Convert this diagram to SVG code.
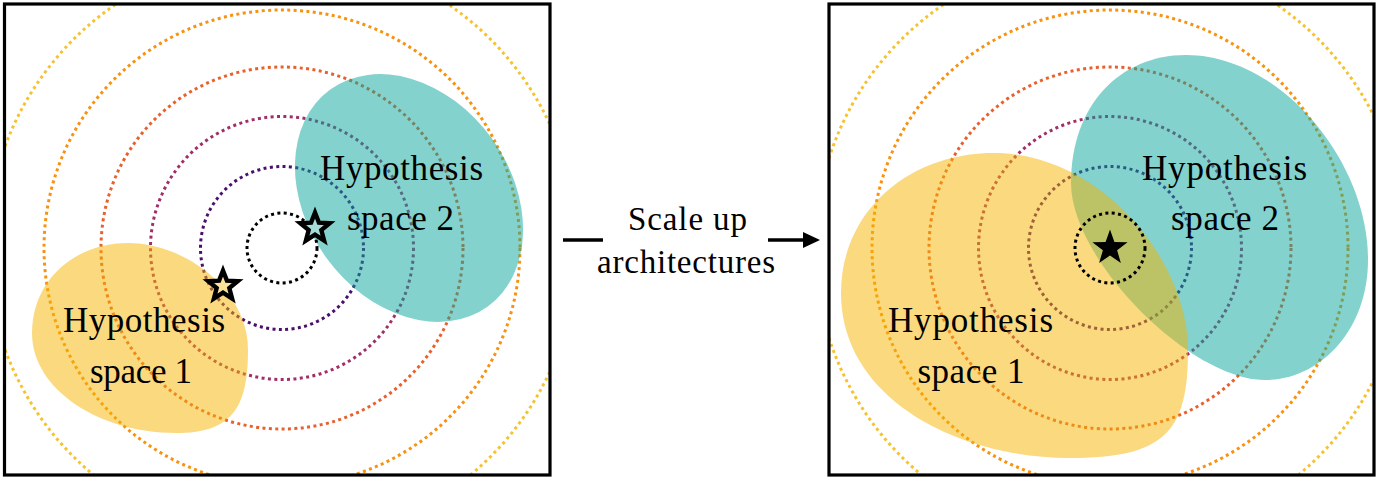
<svg xmlns="http://www.w3.org/2000/svg" width="1377" height="481" viewBox="0 0 1377 481">
<style>
.c{fill:none;stroke-width:3;stroke-dasharray:3 3.4}
.k{stroke:#000}
.p{stroke:#4a0e6b}
.m{stroke:#a02f68}
.r{stroke:#e8602c}
.o{stroke:#f8920f}
.y{stroke:#f5c330}
.teal{fill:#08a69c;fill-opacity:0.5}
.gold{fill:#f5b300;fill-opacity:0.5}
.box{fill:none;stroke:#000;stroke-width:3.2}
text{font-family:"Liberation Serif","Times New Roman",serif;fill:#000;text-anchor:middle}
.lbl{font-size:35px}
.mid{font-size:33px}
.star{stroke:#000;stroke-width:4.4;stroke-linejoin:miter;stroke-miterlimit:5}
.arrow{stroke:#000;stroke-width:3.6;fill:none}
</style>
<defs>
<clipPath id="clipL"><rect x="4.5" y="4" width="545.5" height="471"/></clipPath>
<clipPath id="clipR"><rect x="829" y="4" width="545" height="471"/></clipPath>
<path id="starO" d="M0,-15.5 L3.91,-5.37 L14.74,-4.79 L6.32,2.05 L9.11,12.54 L0,6.64 L-9.11,12.54 L-6.32,2.05 L-14.74,-4.79 L-3.91,-5.37 Z"/>
<path id="starS" d="M0,-18.5 L4.41,-6.07 L17.59,-5.72 L7.13,2.32 L10.87,14.97 L0,7.5 L-10.87,14.97 L-7.13,2.32 L-17.59,-5.72 L-4.41,-6.07 Z"/>
<marker id="ah" markerUnits="userSpaceOnUse" markerWidth="18" markerHeight="16" viewBox="0 0 18 16" refX="2" refY="8" orient="auto">
<path d="M0,0 L17,8 L0,16 Z" fill="#000"/>
</marker>
</defs>

<g id="panel-left">
<g id="loss-contours-left" clip-path="url(#clipL)">
<circle class="c y" cx="282" cy="248" r="295"/>
<circle class="c o" cx="282" cy="248" r="238"/>
<circle class="c r" cx="282" cy="248" r="181"/>
<circle class="c m" cx="282" cy="248" r="131.5"/>
<circle class="c p" cx="282" cy="248" r="81.5"/>
</g>
<g id="hypothesis-space-2-left">
<ellipse class="teal" cx="409" cy="198" rx="134" ry="102" transform="rotate(54 409 198)"/>
<text class="lbl" x="401.5" y="180" textLength="163">Hypothesis</text>
<text class="lbl" x="400.5" y="230" textLength="107">space 2</text>
</g>
<g id="hypothesis-space-1-left">
<path class="gold" d="M128,243 C185,243 248,290 248,350 C248,410 230,433 176,433 C100,433 32,390 32,333 C32,280 75,243 128,243 Z"/>
<text class="lbl" x="144" y="332" textLength="162">Hypothesis</text>
<text class="lbl" x="141" y="383" textLength="102">space 1</text>
</g>
<g id="optimum-left">
<circle class="c k" cx="282" cy="248" r="35"/>
<use href="#starO" class="star" fill="#a6dcd8" x="315" y="228"/>
<use href="#starO" class="star" fill="#fbe29a" x="223" y="286"/>
</g>
<rect class="box" x="4.5" y="4" width="545.5" height="471"/>
</g>

<g id="connectors">
<line class="arrow" x1="563" y1="240" x2="603" y2="240"/>
<line class="arrow" x1="768" y1="240" x2="805" y2="240" marker-end="url(#ah)"/>
</g>
<g id="label-scale-up">
<text class="mid" x="687.5" y="230" textLength="119">Scale up</text>
<text class="mid" x="686" y="273" textLength="178">architectures</text>
</g>

<g id="panel-right">
<g id="loss-contours-right" clip-path="url(#clipR)">
<circle class="c y" cx="1110" cy="248" r="295"/>
<circle class="c o" cx="1110" cy="248" r="238"/>
<circle class="c r" cx="1110" cy="248" r="181"/>
<circle class="c m" cx="1110" cy="248" r="131.5"/>
<circle class="c p" cx="1110" cy="248" r="81.5"/>
</g>
<g id="hypothesis-space-2-right">
<path class="teal" d="M1186,55 C1280,55 1368,160 1368,260 C1368,330 1320,380 1265,380 C1190,380 1071,260 1071,183 C1071,105 1120,55 1186,55 Z"/>
</g>
<g id="hypothesis-space-1-right">
<path class="gold" d="M994,153 C1100,153 1188,260 1188,350 C1188,432 1165,458 1069,458 C960,458 841,400 841,293 C841,210 910,153 994,153 Z"/>
</g>
<g id="labels-right">
<text class="lbl" x="1224.5" y="180" textLength="165">Hypothesis</text>
<text class="lbl" x="1225" y="230" textLength="108">space 2</text>
<text class="lbl" x="970.5" y="332" textLength="165">Hypothesis</text>
<text class="lbl" x="971" y="383" textLength="107">space 1</text>
</g>
<g id="optimum-right">
<circle class="c k" cx="1110" cy="248" r="35"/>
<use href="#starS" fill="#000" x="1110" y="248"/>
</g>
<rect class="box" x="829" y="4" width="545" height="471"/>
</g>
</svg>
